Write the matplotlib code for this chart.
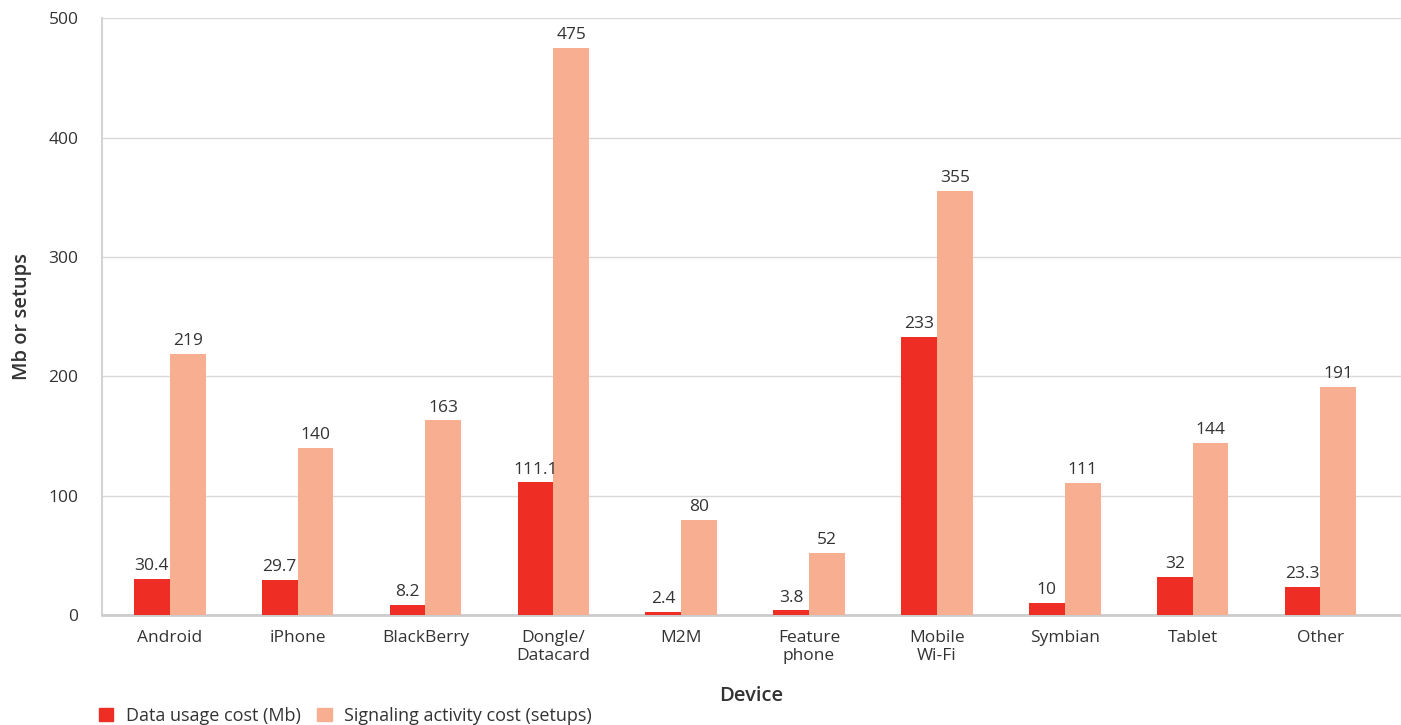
import matplotlib.pyplot as plt
import numpy as np
from matplotlib.patches import Patch

plt.rcParams['font.family'] = ['Open Sans', 'DejaVu Sans']

devices = ["Android", "iPhone", "BlackBerry", "Dongle/\nDatacard", "M2M",
           "Feature\nphone", "Mobile\nWi-Fi", "Symbian", "Tablet", "Other"]
data_usage = [30.4, 29.7, 8.2, 111.1, 2.4, 3.8, 233, 10, 32, 23.3]
signaling = [219, 140, 163, 475, 80, 52, 355, 111, 144, 191]
data_labels = ["30.4", "29.7", "8.2", "111.1", "2.4", "3.8", "233", "10", "32", "23.3"]
sig_labels = ["219", "140", "163", "475", "80", "52", "355", "111", "144", "191"]

red = '#ee2d24'
salmon = '#f8ae90'
text_col = '#333333'

fig = plt.figure(figsize=(14.01, 7.25), dpi=100)
ax = fig.add_axes([0.0728, 0.1517, 0.9272, 0.8233])

x = np.arange(len(devices))
w = 0.28
b1 = ax.bar(x - w / 2, data_usage, w, color=red, zorder=3)
b2 = ax.bar(x + w / 2, signaling, w, color=salmon, zorder=3)

# value labels above bars
for rect, lab in zip(b1, data_labels):
    ax.text(rect.get_x() + rect.get_width() / 2, rect.get_height() + 4, lab,
            ha='center', va='bottom', fontsize=12.5, color=text_col)
for rect, lab in zip(b2, sig_labels):
    ax.text(rect.get_x() + rect.get_width() / 2, rect.get_height() + 4, lab,
            ha='center', va='bottom', fontsize=12.5, color=text_col)

ax.set_xlim(-0.53, 9.63)
ax.set_ylim(0, 500)
ax.set_yticks([0, 100, 200, 300, 400, 500])
ax.set_xticks(x)
ax.set_xticklabels(devices, fontsize=12.5, color=text_col, linespacing=1.15)
ax.tick_params(axis='y', labelsize=12.5, labelcolor=text_col, length=0, pad=17)
ax.tick_params(axis='x', length=0, pad=11)

ax.grid(axis='y', color='#d9d9d9', linewidth=1, zorder=0)
for s in ['top', 'right']:
    ax.spines[s].set_visible(False)
ax.spines['left'].set_color('#d4d4d4')
ax.spines['left'].set_linewidth(1.5)
ax.spines['bottom'].set_color('#cccccc')
ax.spines['bottom'].set_linewidth(2)

ax.set_ylabel("Mb or setups", fontsize=14.5, fontweight='semibold', color=text_col, labelpad=12)
ax.set_xlabel("Device", fontsize=14.5, fontweight='semibold', color=text_col, labelpad=16)

handles = [Patch(color=red, label="Data usage cost (Mb)"),
           Patch(color=salmon, label="Signaling activity cost (setups)")]
leg = fig.legend(handles=handles, loc='lower left', bbox_to_anchor=(0.059, -0.022),
                 ncol=2, frameon=False, fontsize=13, handlelength=0.8, handleheight=0.8,
                 columnspacing=0.9, handletextpad=0.7)
for t in leg.get_texts():
    t.set_color(text_col)

fig.savefig("out.png", dpi=100)
